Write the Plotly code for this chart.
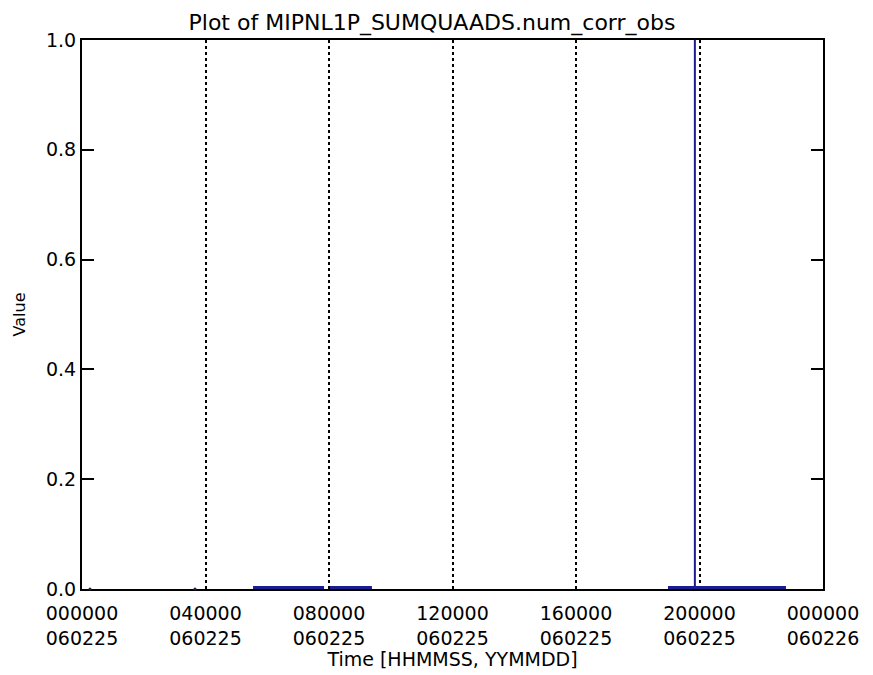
import plotly.graph_objects as go

# ---- data (hours since 000000 on 060225) ----
# runs of samples lying at value 0
run_starts_h = [5.54, 8.03, 18.98]
run_ends_h = [7.84, 9.39, 22.80]
# single spike to value 1
spike_time_h = 19.85
spike_value = 1.0
# isolated single samples at value 0
isolated_times_h = [0.26, 3.66]
isolated_values = [0, 0]

tick_hours = [0, 4, 8, 12, 16, 20, 24]
tick_labels = [
    "000000<br>060225", "040000<br>060225", "080000<br>060225",
    "120000<br>060225", "160000<br>060225", "200000<br>060225",
    "000000<br>060226",
]
y_ticks = [0.0, 0.2, 0.4, 0.6, 0.8, 1.0]

FONT = "DejaVu Sans"
BLUE = "#1c1c90"

# the page body adds an 8px offset, so the figure is 8px smaller
W, H = 865, 667
OFF = 8

run_x, run_y = [], []
for s, e in zip(run_starts_h, run_ends_h):
    run_x += [s, e, None]
    run_y += [0, 0, None]

fig = go.Figure()
fig.add_trace(go.Scatter(
    x=run_x, y=run_y, mode="lines",
    line=dict(color=BLUE, width=6),
    connectgaps=False, showlegend=False,
))
fig.add_trace(go.Scatter(
    x=[spike_time_h, spike_time_h], y=[0, spike_value], mode="lines",
    line=dict(color=BLUE, width=2), showlegend=False,
))
fig.add_trace(go.Scatter(
    x=isolated_times_h, y=isolated_values, mode="markers",
    marker=dict(color="#202040", size=3), cliponaxis=False, showlegend=False,
))

fig.update_layout(
    width=W, height=H,
    margin=dict(l=82 - OFF, r=50, t=40 - OFF, b=86),
    paper_bgcolor="white", plot_bgcolor="white",
    font=dict(family=FONT, color="black", size=19),
    title=dict(
        text="Plot of MIPNL1P_SUMQUAADS.num_corr_obs",
        x=(432 - OFF) / W, xref="container", xanchor="center",
        y=1 - (22 - OFF) / H, yref="container", yanchor="middle",
        font=dict(family=FONT, size=22, color="black"),
    ),
)

fig.update_xaxes(
    range=[0, 24], tickmode="array", tickvals=tick_hours, ticktext=tick_labels,
    ticks="", showline=True, linecolor="black", linewidth=2, mirror=True,
    showgrid=True, gridcolor="black", gridwidth=1.5, griddash="3px,3px",
    zeroline=False, layer="below traces", automargin=False,
    ticklabelstandoff=6,
    tickfont=dict(family=FONT, size=19, color="black"),
    title=dict(text="Time [HHMMSS, YYMMDD]", standoff=3,
               font=dict(family=FONT, size=19, color="black")),
)
fig.update_yaxes(
    range=[0, 1], tickmode="array", tickvals=y_ticks,
    tickformat=".1f", ticks="inside", ticklen=12, tickwidth=1.5, tickcolor="black",
    showline=True, linecolor="black", linewidth=2, mirror="ticks",
    showgrid=False, zeroline=False, layer="below traces", automargin=False,
    tickfont=dict(family=FONT, size=19, color="black"),
    title=dict(text="Value", standoff=16,
               font=dict(family=FONT, size=16, color="black")),
)

fig.write_html("out.html")
